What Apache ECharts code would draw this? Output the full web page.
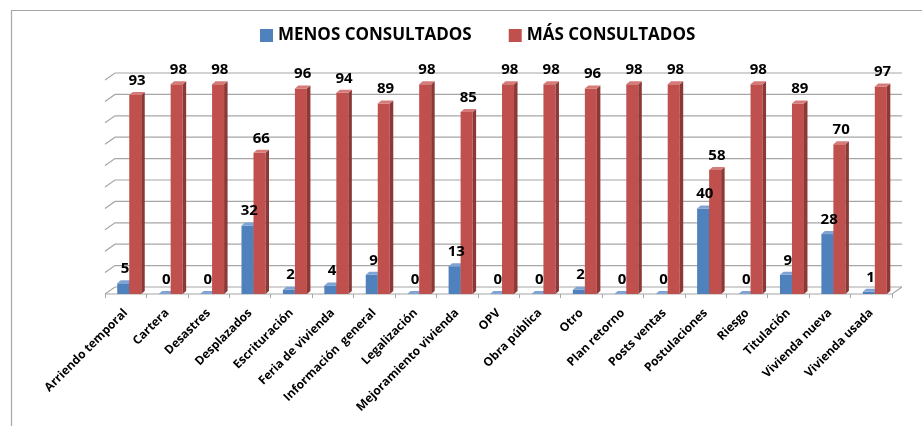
<!DOCTYPE html>
<html>
<head>
<meta charset="utf-8">
<script src="https://cdn.jsdelivr.net/npm/echarts@6/dist/echarts.min.js"></script>
<style>html,body{margin:0;padding:0;background:#fff}#c{width:922px;height:426px}</style>
</head>
<body>
<div id="c"></div>
<script>
const categories = ['Arriendo temporal','Cartera','Desastres','Desplazados','Escrituración','Feria de vivienda','Información  general','Legalización','Mejoramiento vivienda','OPV','Obra pública','Otro','Plan retorno','Posts ventas','Postulaciones','Riesgo','Titulación','Vivienda nueva','Vivienda usada'];
const menos = [5,0,0,32,2,4,9,0,13,0,0,2,0,0,40,0,9,28,1];
const mas = [93,98,98,66,96,94,89,98,85,98,98,96,98,98,58,98,89,70,97];
const yTicks = [0,10,20,30,40,50,60,70,80,90,100];

const FONT = '"Open Sans", Lato, sans-serif';
const WDX = 10, WDY = 7;   // wall depth
const BDX = 3.5, BDY = 3;  // bar depth
const BLUE_OFF = -0.205, RED_OFF = 0.085, BW = 0.29;

function barGeom(api) {
  const idx = api.value(0), v = api.value(1);
  const t = api.coord([idx, v]);
  const b = api.coord([idx, 0]);
  const w = api.size([1, 0])[0];
  return { v, t, b, w };
}

function barRender(offFrac, front, side, topc) {
  return function (params, api) {
    const g = barGeom(api);
    const bw = g.w * BW;
    const x0 = g.t[0] + offFrac * g.w;
    const yt = g.t[1], yb = g.b[1];
    return {
      type: 'group',
      children: [
        { type: 'rect', shape: { x: x0, y: yt, width: bw, height: yb - yt }, style: { fill: front } },
        { type: 'polygon', shape: { points: [[x0 + bw, yt], [x0 + bw + BDX, yt - BDY], [x0 + bw + BDX, yb - BDY], [x0 + bw, yb]] }, style: { fill: side } },
        { type: 'polygon', shape: { points: [[x0, yt], [x0 + BDX, yt - BDY], [x0 + bw + BDX, yt - BDY], [x0 + bw, yt]] }, style: { fill: topc } }
      ]
    };
  };
}

function labelRender(offFrac) {
  return function (params, api) {
    const g = barGeom(api);
    const bw = g.w * BW;
    const x0 = g.t[0] + offFrac * g.w;
    return { type: 'text', style: { x: x0 + bw / 2 + BDX / 2, y: g.t[1] - BDY - 4, text: String(g.v), textAlign: 'center', textVerticalAlign: 'bottom', font: 'bold 15px ' + FONT, fill: '#000' } };
  };
}

function wallRender(params, api) {
  const v = api.value(1);
  const w = api.size([1, 0])[0];
  const p0 = api.coord([0, v]);
  const p1 = api.coord([categories.length - 1, v]);
  const left = p0[0] - w / 2, right = p1[0] + w / 2, y = p0[1];
  const children = [
    { type: 'polyline', shape: { points: [[left, y], [left + WDX, y - WDY], [right + WDX, y - WDY]] }, style: { stroke: '#a6a6a6', lineWidth: 1.2, fill: null } }
  ];
  if (v === 0) {
    children.push({ type: 'polyline', shape: { points: [[left, y], [right, y], [right + WDX, y - WDY]] }, style: { stroke: '#a6a6a6', lineWidth: 1.2, fill: null } });
  }
  return { type: 'group', children };
}

const chart = echarts.init(document.getElementById('c'));
chart.setOption({
  animation: false,
  backgroundColor: '#fff',
  graphic: [{ type: 'rect', shape: { x: 11.5, y: 10.5, width: 1000, height: 1000 }, style: { fill: null, stroke: '#a6a6a6', lineWidth: 1.2 }, silent: true }],
  legend: {
    data: ['MENOS CONSULTADOS', 'MÁS CONSULTADOS'],
    left: 260, top: 27, padding: 0,
    itemWidth: 13, itemHeight: 13, itemGap: 37,
    icon: 'rect',
    textStyle: { fontFamily: FONT, fontWeight: 'bold', fontSize: 17, color: '#000' }
  },
  grid: { left: 105, right: 30, top: 80, bottom: 132 },
  xAxis: {
    type: 'category', data: categories, boundaryGap: true,
    axisLine: { show: false },
    axisTick: { show: true, length: 4, interval: 0, lineStyle: { color: '#a6a6a6' } },
    axisLabel: { rotate: 45, interval: 0, margin: 17, fontFamily: FONT, fontWeight: 'bold', fontSize: 12, color: '#000' }
  },
  yAxis: {
    type: 'value', min: 0, max: 100, interval: 10,
    axisLine: { show: false }, axisTick: { show: false }, axisLabel: { show: false }, splitLine: { show: false }
  },
  series: [
    { name: 'wall', type: 'custom', silent: true, clip: false, z: 1, renderItem: wallRender, data: yTicks.map(v => [0, v]) },
    { name: 'MENOS CONSULTADOS', type: 'custom', clip: false, z: 2, itemStyle: { color: '#4F81BD' }, renderItem: barRender(BLUE_OFF, '#4F81BD', '#385D8A', '#7FA3D3'), data: menos.map((v, i) => [i, v]) },
    { name: 'MÁS CONSULTADOS', type: 'custom', clip: false, z: 3, itemStyle: { color: '#C0504D' }, renderItem: barRender(RED_OFF, '#C0504D', '#8C3836', '#D57B79'), data: mas.map((v, i) => [i, v]) },
    { name: 'menosLabels', type: 'custom', silent: true, clip: false, z: 10, renderItem: labelRender(BLUE_OFF), data: menos.map((v, i) => [i, v]) },
    { name: 'masLabels', type: 'custom', silent: true, clip: false, z: 10, renderItem: labelRender(RED_OFF), data: mas.map((v, i) => [i, v]) }
  ]
});
</script>
</body>
</html>
